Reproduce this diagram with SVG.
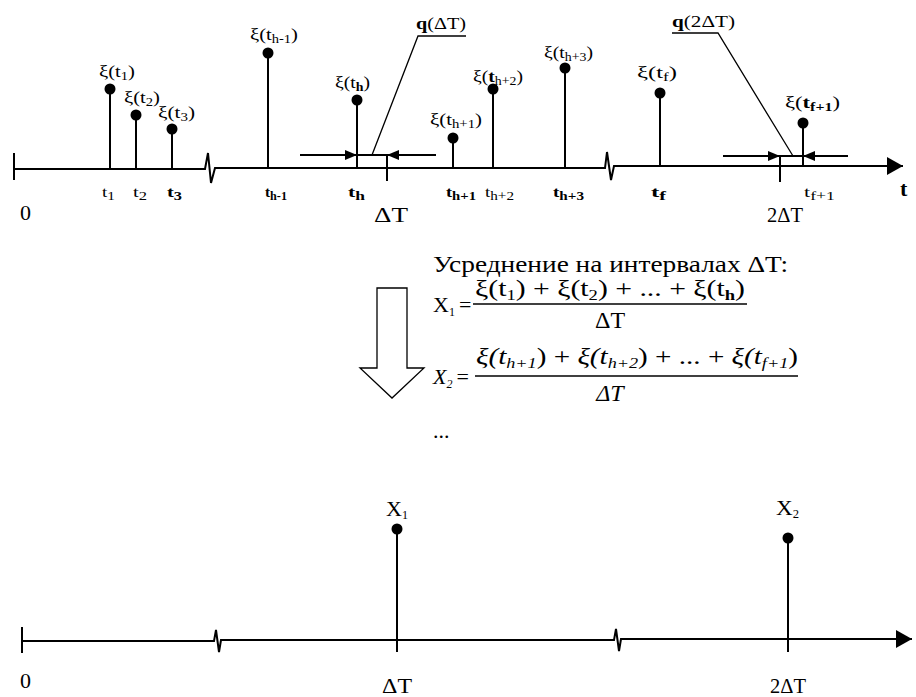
<svg xmlns="http://www.w3.org/2000/svg" width="916" height="697" viewBox="0 0 916 697">
<defs>
<style>
text{font-family:"Liberation Serif","Times New Roman",serif;fill:#000}
.l{font-size:17px}
.tk{font-size:15px}
.big{font-size:22px}
.f{font-size:24px}
.s{font-size:12px}
.fs{font-size:15px}
.b{font-weight:bold}
.i{font-style:italic}
.n{font-style:normal}
.ax{stroke:#000;stroke-width:2;fill:none}
.st{stroke:#000;stroke-width:2}
.thin{stroke:#000;stroke-width:1.3;fill:none}
.dot{fill:#000}
</style>
<marker id="ah" viewBox="0 0 12 10" refX="12" refY="5" markerWidth="12" markerHeight="10" markerUnits="userSpaceOnUse" orient="auto"><path d="M0,0 L12,5 L0,10 Z" fill="#000"/></marker>
<marker id="axh" viewBox="0 0 16 18" refX="16" refY="9" markerWidth="16" markerHeight="18" markerUnits="userSpaceOnUse" orient="auto"><path d="M0,0 L16,9 L0,18 Z" fill="#000"/></marker>
</defs>
<g id="top-axis">
<line class="ax" x1="14" y1="153" x2="14" y2="180" stroke-width="3"/>
<polyline class="ax" points="14,169 205,169 208,153 211,183 215,168 605,168 607,152 611,180 614,166 620,166"/>
<line class="ax" x1="620" y1="166" x2="903" y2="166" marker-end="url(#axh)"/>
<line class="ax" x1="387" y1="154" x2="387" y2="181" stroke-width="3"/>
<line class="ax" x1="780" y1="156" x2="780" y2="182" stroke-width="2.5"/>
</g>
<g id="samples">
<g id="s1"><line class="st" x1="110" y1="89" x2="110" y2="169"/><circle class="dot" cx="110" cy="89" r="5.5"/></g>
<g id="s2"><line class="st" x1="136" y1="115" x2="136" y2="169"/><circle class="dot" cx="136" cy="115" r="5.5"/></g>
<g id="s3"><line class="st" x1="172" y1="129" x2="172" y2="169"/><circle class="dot" cx="172" cy="129" r="5.5"/></g>
<g id="sh1"><line class="st" x1="268" y1="53" x2="268" y2="168"/><circle class="dot" cx="268" cy="53" r="5.5"/></g>
<g id="sh"><line class="st" x1="357" y1="100" x2="357" y2="168"/><circle class="dot" cx="357" cy="100" r="5.5"/></g>
<g id="shp1"><line class="st" x1="453" y1="138" x2="453" y2="168"/><circle class="dot" cx="453" cy="138" r="5.5"/></g>
<g id="shp2"><line class="st" x1="493" y1="89" x2="493" y2="168"/><circle class="dot" cx="493" cy="89" r="5.5"/></g>
<g id="shp3"><line class="st" x1="565" y1="68" x2="565" y2="168"/><circle class="dot" cx="565" cy="68" r="5.5"/></g>
<g id="sf"><line class="st" x1="660" y1="93" x2="660" y2="166"/><circle class="dot" cx="660" cy="93" r="5.5"/></g>
<g id="sf1"><line class="st" x1="803" y1="123" x2="803" y2="166"/><circle class="dot" cx="803" cy="123" r="5.5"/></g>
</g>
<g id="connectors">
<line class="ax" x1="300" y1="155" x2="357" y2="155" marker-end="url(#ah)"/>
<line class="ax" x1="357" y1="155" x2="387" y2="155"/>
<line class="ax" x1="436" y1="155" x2="387" y2="155" marker-end="url(#ah)"/>
<polyline class="thin" points="372,155 418,36 466,36"/>
<line class="ax" x1="723" y1="156" x2="780" y2="156" marker-end="url(#ah)"/>
<line class="ax" x1="780" y1="156" x2="803" y2="156"/>
<line class="ax" x1="848" y1="156" x2="803" y2="156" marker-end="url(#ah)"/>
<polyline class="thin" points="793,156 718,33 672,33"/>
</g>
<g id="top-labels">
<text class="l" x="99" y="77" textLength="36" lengthAdjust="spacingAndGlyphs">ξ(t<tspan class="s" dy="3">1</tspan><tspan dy="-3">)</tspan></text>
<text class="l" x="124" y="103" textLength="36" lengthAdjust="spacingAndGlyphs">ξ(t<tspan class="s" dy="3">2</tspan><tspan dy="-3">)</tspan></text>
<text class="l" x="158" y="118" textLength="37" lengthAdjust="spacingAndGlyphs">ξ(t<tspan class="s" dy="3">3</tspan><tspan dy="-3">)</tspan></text>
<text class="l" x="250" y="40" textLength="48" lengthAdjust="spacingAndGlyphs">ξ(t<tspan class="s" dy="3">h-1</tspan><tspan dy="-3">)</tspan></text>
<text class="l" x="335" y="88" textLength="35" lengthAdjust="spacingAndGlyphs">ξ(t<tspan class="s b" dy="3">h</tspan><tspan dy="-3">)</tspan></text>
<text class="l" x="430" y="125" textLength="52" lengthAdjust="spacingAndGlyphs">ξ(t<tspan class="s" dy="3">h+1</tspan><tspan dy="-3">)</tspan></text>
<text class="l" x="473" y="82" textLength="50" lengthAdjust="spacingAndGlyphs">ξ(<tspan class="b">t</tspan><tspan class="s" dy="3">h+2</tspan><tspan dy="-3">)</tspan></text>
<text class="l" x="544" y="58" textLength="49" lengthAdjust="spacingAndGlyphs">ξ(t<tspan class="s" dy="3">h+3</tspan><tspan dy="-3">)</tspan></text>
<text class="l" x="637" y="78" textLength="40" lengthAdjust="spacingAndGlyphs">ξ(t<tspan class="s" dy="3">f</tspan><tspan dy="-3">)</tspan></text>
<text class="l" x="785" y="108" textLength="55" lengthAdjust="spacingAndGlyphs">ξ(<tspan class="b">t</tspan><tspan class="s b" dy="3">f+1</tspan><tspan dy="-3">)</tspan></text>
<text class="l b" x="416" y="29" textLength="50" lengthAdjust="spacingAndGlyphs">q<tspan font-weight="normal">(ΔT)</tspan></text>
<text class="l b" x="672" y="27" textLength="63" lengthAdjust="spacingAndGlyphs">q<tspan font-weight="normal">(2ΔT)</tspan></text>
<text class="tk" x="102" y="197" textLength="13" lengthAdjust="spacingAndGlyphs">t<tspan class="s" dy="3">1</tspan></text>
<text class="tk" x="133" y="197" textLength="14" lengthAdjust="spacingAndGlyphs">t<tspan class="s" dy="3">2</tspan></text>
<text class="tk b" x="167" y="197" textLength="15" lengthAdjust="spacingAndGlyphs">t<tspan class="s" dy="3">3</tspan></text>
<text class="tk b" x="265" y="197" textLength="22" lengthAdjust="spacingAndGlyphs">t<tspan class="s" dy="3">h-1</tspan></text>
<text class="tk b" x="348" y="197" textLength="17" lengthAdjust="spacingAndGlyphs">t<tspan class="s" dy="3">h</tspan></text>
<text class="tk b" x="446" y="197" textLength="30" lengthAdjust="spacingAndGlyphs">t<tspan class="s" dy="3">h+1</tspan></text>
<text class="tk" x="485" y="197" textLength="29" lengthAdjust="spacingAndGlyphs">t<tspan class="s" dy="3">h+2</tspan></text>
<text class="tk b" x="553" y="197" textLength="31" lengthAdjust="spacingAndGlyphs">t<tspan class="s" dy="3">h+3</tspan></text>
<text class="tk b" x="651" y="197" textLength="15" lengthAdjust="spacingAndGlyphs">t<tspan class="s" dy="3">f</tspan></text>
<text class="tk" x="804" y="197" textLength="31" lengthAdjust="spacingAndGlyphs">t<tspan class="s" dy="3">f+1</tspan></text>
<text class="big b" x="900" y="196">t</text>
<text class="big" x="20" y="220">0</text>
<text class="big" x="391" y="222" text-anchor="middle" textLength="34" lengthAdjust="spacingAndGlyphs">ΔT</text>
<text class="big" x="785" y="222" text-anchor="middle" textLength="36" lengthAdjust="spacingAndGlyphs">2ΔT</text>
</g>
<g id="down-arrow">
<path class="thin" d="M377,288 L407,288 L407,368 L424,368 L392,398 L360,368 L377,368 Z" stroke-width="1.5"/>
</g>
<g id="formulas">
<text x="433" y="272" font-size="23" textLength="355" lengthAdjust="spacingAndGlyphs">Усреднение на интервалах ΔT:</text>
<text class="big" x="433" y="312">X<tspan class="s" dy="4">1</tspan><tspan dy="-4" dx="4">=</tspan></text>
<text class="f" x="475" y="296" textLength="270" lengthAdjust="spacingAndGlyphs">ξ(t<tspan class="fs" dy="4">1</tspan><tspan dy="-4">) + ξ(t</tspan><tspan class="fs" dy="4">2</tspan><tspan dy="-4">) + ... + ξ(t</tspan><tspan class="fs b" dy="4">h</tspan><tspan dy="-4">)</tspan></text>
<line class="thin" x1="473" y1="304" x2="747" y2="304"/>
<text class="f" x="610" y="328" text-anchor="middle">ΔT</text>
<text class="big i" x="433" y="384">X<tspan class="s" dy="4">2</tspan><tspan class="n" dy="-4" dx="4">=</tspan></text>
<text class="f i" x="476" y="364" textLength="322" lengthAdjust="spacingAndGlyphs">ξ(t<tspan class="fs" dy="4">h+1</tspan><tspan class="n" dy="-4">) + </tspan>ξ(t<tspan class="fs" dy="4">h+2</tspan><tspan class="n" dy="-4">) + ... + </tspan>ξ(t<tspan class="fs" dy="4">f+1</tspan><tspan class="n" dy="-4">)</tspan></text>
<line class="thin" x1="475" y1="376" x2="798" y2="376"/>
<text class="f i" x="610" y="401" text-anchor="middle">ΔT</text>
<text class="big" x="433" y="438">...</text>
</g>
<g id="bottom-axis">
<line class="ax" x1="22" y1="627" x2="22" y2="653" stroke-width="3"/>
<polyline class="ax" points="22,641 214,641 216,630 219,652 221,640 614,640 616,629 619,651 621,639 640,639"/>
<line class="ax" x1="640" y1="639" x2="912" y2="639" marker-end="url(#axh)"/>
<line class="ax" x1="397" y1="628" x2="397" y2="652" stroke-width="2.5"/>
<line class="ax" x1="788" y1="628" x2="788" y2="652" stroke-width="3"/>
</g>
<g id="averages">
<g id="x1"><line class="st" x1="397" y1="529" x2="397" y2="640"/><circle class="dot" cx="397" cy="529" r="5.5"/><text class="big" x="386" y="516" textLength="22" lengthAdjust="spacingAndGlyphs">X<tspan class="s" dy="3">1</tspan></text></g>
<g id="x2"><line class="st" x1="788" y1="538" x2="788" y2="639"/><circle class="dot" cx="788" cy="538" r="5.5"/><text class="big" x="776" y="515" textLength="23" lengthAdjust="spacingAndGlyphs">X<tspan class="s" dy="3">2</tspan></text></g>
</g>
<g id="bottom-labels">
<text class="big" x="20" y="688">0</text>
<text class="big" x="397" y="693" text-anchor="middle" textLength="30" lengthAdjust="spacingAndGlyphs">ΔT</text>
<text class="big" x="788" y="693" text-anchor="middle" textLength="36" lengthAdjust="spacingAndGlyphs">2ΔT</text>
</g>
</svg>
